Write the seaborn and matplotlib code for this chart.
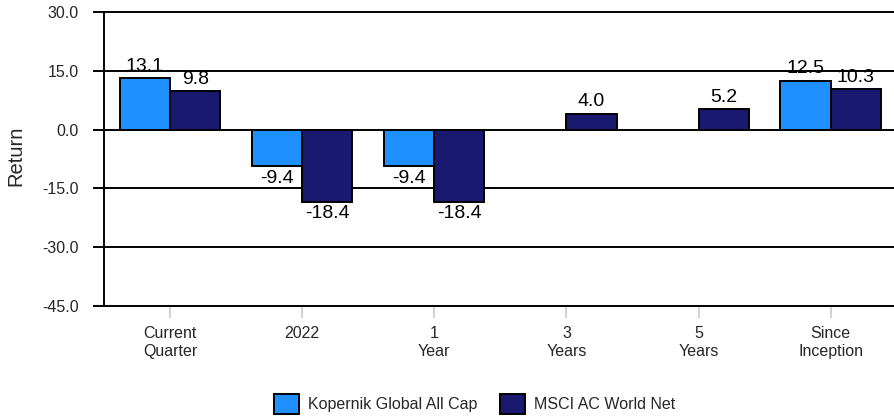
import matplotlib
matplotlib.use("Agg")
import matplotlib.pyplot as plt
import seaborn as sns
import numpy as np
import pandas as pd

categories = ["Current\nQuarter", "2022", "1\nYear", "3\nYears", "5\nYears", "Since\nInception"]
series_names = ["Kopernik Global All Cap", "MSCI AC World Net"]
kopernik = [13.1, -9.4, -9.4, np.nan, np.nan, 12.5]
msci = [9.8, -18.4, -18.4, 4.0, 5.2, 10.3]
yticks = [30.0, 15.0, 0.0, -15.0, -30.0, -45.0]
colors = ["#1E90FF", "#191970"]

df = pd.DataFrame({
    "Period": categories * 2,
    "Series": [series_names[0]] * len(categories) + [series_names[1]] * len(categories),
    "Return": kopernik + msci,
})

sns.set_style("white")
plt.rcParams["font.family"] = ["Liberation Sans", "DejaVu Sans"]

fig = plt.figure(figsize=(8.94, 4.17), dpi=100)
ax = fig.add_axes([104 / 894, 1 - 306 / 417, 1 - 104 / 894 + 0.003, (306 - 12) / 417])

sns.barplot(data=df, x="Period", y="Return", hue="Series", order=categories,
            hue_order=series_names, palette=colors, width=0.76, dodge=True,
            edgecolor="black", linewidth=1.4, saturation=1, ax=ax, legend=False,
            errorbar=None)

for cont in ax.containers:
    labels = [("" if np.isnan(v) else f"{v:.1f}") for v in cont.datavalues]
    ax.bar_label(cont, labels=labels, padding=2.5, fontsize=14, color="black")

ax.set_ylim(-45, 30)
ax.set_xlim(-0.5, 5.5)
ax.set_yticks(yticks)
ax.set_yticklabels([f"{v:.1f}" for v in yticks], fontsize=11.5)
ax.set_xticks(range(len(categories)))
ax.set_xticklabels(categories, fontsize=11.5, linespacing=1.25)
ax.set_xlabel("")
ax.set_ylabel("Return", fontsize=14.5)
ax.yaxis.set_label_coords((26 - 104) / 790, 0.51)

for v in [15, 0, -15, -30]:
    ax.axhline(v, color="black", linewidth=1.4, zorder=0.5)

for s in ["left", "bottom", "top"]:
    ax.spines[s].set_visible(True)
    ax.spines[s].set_color("black")
    ax.spines[s].set_linewidth(1.4)
ax.spines["right"].set_visible(False)

ax.tick_params(axis="y", which="both", left=True, length=8, width=1.4, color="black", pad=10)
ax.tick_params(axis="x", which="both", bottom=True, length=8.5, width=1.2, color="#cccccc", pad=6)

handles = [plt.Rectangle((0, 0), 1, 1, facecolor=c, edgecolor="black", linewidth=1.4) for c in colors]
fig.legend(handles, series_names, loc="center", bbox_to_anchor=(0.531, 0.031), ncol=2,
           frameon=False, fontsize=11.5, handlelength=1.55, handleheight=1.5, columnspacing=1.4,
           handletextpad=0.6, borderpad=0.1)

fig.savefig("out.png", dpi=100)
